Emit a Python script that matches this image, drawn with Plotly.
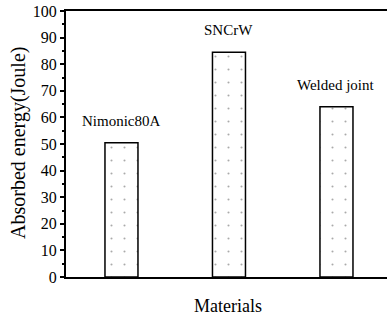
import plotly.graph_objects as go

materials = ["Nimonic80A", "SNCrW", "Welded joint"]
energy = [50.5, 84.5, 64.0]
y_ticks = [0, 10, 20, 30, 40, 50, 60, 70, 80, 90, 100]

FONT = "Liberation Serif, Times New Roman, serif"

fig = go.Figure()
fig.add_trace(go.Bar(
    x=materials, y=energy, width=0.307,
    marker=dict(color="white", line=dict(color="black", width=1.5),
                pattern=dict(shape=".", fgcolor="#555555", bgcolor="white",
                             size=13, solidity=0.02)),
    showlegend=False,
))

for m, v in zip(materials, energy):
    fig.add_annotation(x=m, y=v, text=m, showarrow=False, yanchor="middle",
                       yshift=22, font=dict(family=FONT, size=15, color="black"))

fig.add_annotation(xref="paper", yref="paper", x=0.505, y=0, yanchor="middle",
                   yshift=-29, text="Materials", showarrow=False,
                   font=dict(family=FONT, size=18, color="black"))
fig.add_annotation(xref="paper", yref="paper", x=0, y=0.504, xanchor="center",
                   xshift=-47, textangle=-90, text="Absorbed energy(Joule)",
                   showarrow=False, font=dict(family=FONT, size=20, color="black"))

fig.update_layout(
    width=387, height=329,
    margin=dict(l=66, r=0, t=11, b=52),
    paper_bgcolor="white", plot_bgcolor="white",
    font=dict(family=FONT, size=16, color="black"),
    xaxis=dict(type="category", range=[-0.516, 2.47], showticklabels=False,
               ticks="", showline=True, linecolor="black", linewidth=2,
               mirror=True, showgrid=False, zeroline=False),
    yaxis=dict(range=[0, 100], tickvals=y_ticks, ticks="outside", ticklen=4,
               tickwidth=1.5, tickcolor="black", showline=True,
               linecolor="black", linewidth=2, showgrid=False, zeroline=False,
               tickfont=dict(family=FONT, size=16, color="black"),
               minor=dict(dtick=5, ticks="outside", ticklen=2, tickcolor="black")),
)

fig.write_html("out.html")
